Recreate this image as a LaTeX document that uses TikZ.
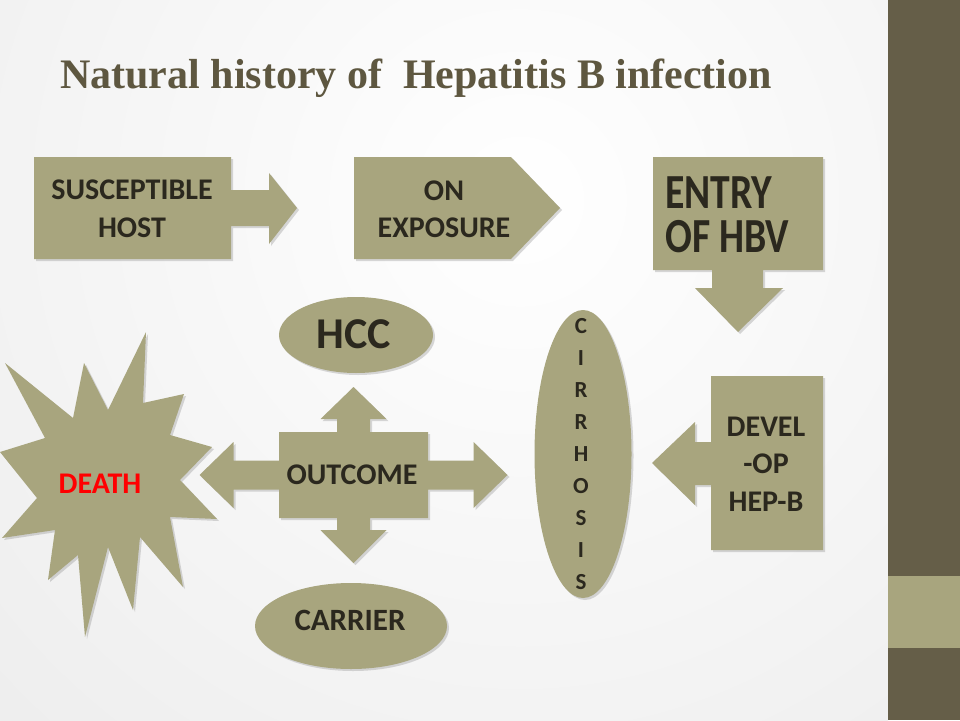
\documentclass[tikz,border=0pt]{standalone}
\usepackage{fontspec}
\setmainfont{Carlito}
\newfontfamily\titlefont{Liberation Serif}
\usetikzlibrary{shapes.geometric,shadows}
\definecolor{olive}{HTML}{A8A57E}
\definecolor{barcol}{HTML}{655E48}
\definecolor{ink}{HTML}{2B281E}
\definecolor{titlecol}{HTML}{5E5740}
\tikzset{
  oliveshape/.style={fill=olive,drop shadow={shadow xshift=2pt,shadow yshift=-2pt,opacity=.3}},
  oval/.style={oliveshape,ellipse,inner sep=0pt},
  lbl/.style={text=ink,inner sep=0pt,align=center,font=\bfseries\fontsize{30}{37.5}\selectfont}
}
\begin{document}
\begin{tikzpicture}[x=1pt,y=-1pt]
        \useasboundingbox (0,0) rectangle (960,720);
        \begin{scope}
        \clip (0,0) rectangle (888,720);
        \shade[inner color=white,outer color=black!12] (-780,-1100) rectangle (1820,1500);
        \end{scope}
        \fill[barcol] (888,0) rectangle (960,720);
        \fill[olive] (888,576) rectangle (960,648);
        \node[anchor=base west,inner sep=0pt,text=titlecol,font=\titlefont\bfseries\fontsize{42}{50}\selectfont] (title) at (60,88) {Natural history of\ \ Hepatitis B infection};
        \fill[oliveshape] (34,157) -- (231,157) -- (231,190) -- (269,190) -- (269,173) -- (297,208) -- (269,244) -- (269,226) -- (231,226) -- (231,259) -- (34,259) -- cycle;
        \node[lbl] (host) at (132,209) {SUSCEPTIBLE\\HOST};
        \fill[oliveshape] (354,157) -- (511,157) -- (560,208) -- (511,259) -- (354,259) -- cycle;
        \node[lbl] (expo) at (444,209.5) {ON\\EXPOSURE};
        \fill[oliveshape] (653,157) -- (823,157) -- (823,270) -- (763,270) -- (763,288) -- (783,288) -- (738,332) -- (695,288) -- (712,288) -- (712,270) -- (653,270) -- cycle;
        \node[lbl,anchor=west,align=left,xscale=.81,font=\bfseries\fontsize{49}{44}\selectfont] (entry) at (665,215) {ENTRY\\OF HBV};
        \fill[oliveshape] (711,376) -- (823,376) -- (823,550) -- (711,550) -- (711,485) -- (695,485) -- (695,505) -- (652,463) -- (695,422) -- (695,442) -- (711,442) -- cycle;
        \node[lbl] (devel) at (766,464) {DEVEL\\-OP\\HEP-B};
        \node[oval,minimum width=97pt,minimum height=288pt] (cirr) at (583,454) {};
        \node[lbl,font=\bfseries\fontsize{23}{32}\selectfont] (cirrtext) at (581,454.5) {C\\I\\R\\R\\H\\O\\S\\I\\S};
        \begin{scope}[shift={(353.5,475)}]
        \fill[oliveshape] (-74.5,-43) -- (-16.5,-43) -- (-16.5,-56) -- (-33,-56) -- (0,-88) -- (33,-56) -- (16.5,-56) -- (16.5,-43) -- (74.5,-43) -- (74.5,-14.5) -- (120,-14.5) -- (120,-33) -- (154,0) -- (120,33) -- (120,14.5) -- (74.5,14.5) -- (74.5,43) -- (16.5,43) -- (16.5,55) -- (33,55) -- (0,88) -- (-33,55) -- (-16.5,55) -- (-16.5,43) -- (-74.5,43) -- (-74.5,14.5) -- (-120,14.5) -- (-120,33) -- (-154,0) -- (-120,-33) -- (-120,-14.5) -- (-74.5,-14.5) -- cycle;
        \end{scope}
        \node[lbl] (outcome) at (352,475) {OUTCOME};
        \node[oval,minimum width=154pt,minimum height=76pt] (hccshape) at (356,335) {};
        \node[lbl,font=\bfseries\fontsize{44}{50}\selectfont] (hcc) at (353.5,334) {HCC};
        \node[oval,minimum width=192pt,minimum height=86pt] (carrshape) at (351,626) {};
        \node[lbl,font=\bfseries\fontsize{31}{37}\selectfont] (carrier) at (350,620) {CARRIER};
        \fill[oliveshape] (146,332) -- (143,403) -- (184,394) -- (170,435) -- (212,447) -- (180,480) -- (217,519) -- (170,517) -- (183,587) -- (140,537) -- (133,610) -- (108,547) -- (85,637) -- (78,555) -- (48,580) -- (55,530) -- (2,538) -- (37,498) -- (0,452) -- (45,438) -- (5,363) -- (73,418) -- (84,363) -- (108,410) -- cycle;
        \node[lbl,text=red] (death) at (100,484) {DEATH};
\end{tikzpicture}
\end{document}
